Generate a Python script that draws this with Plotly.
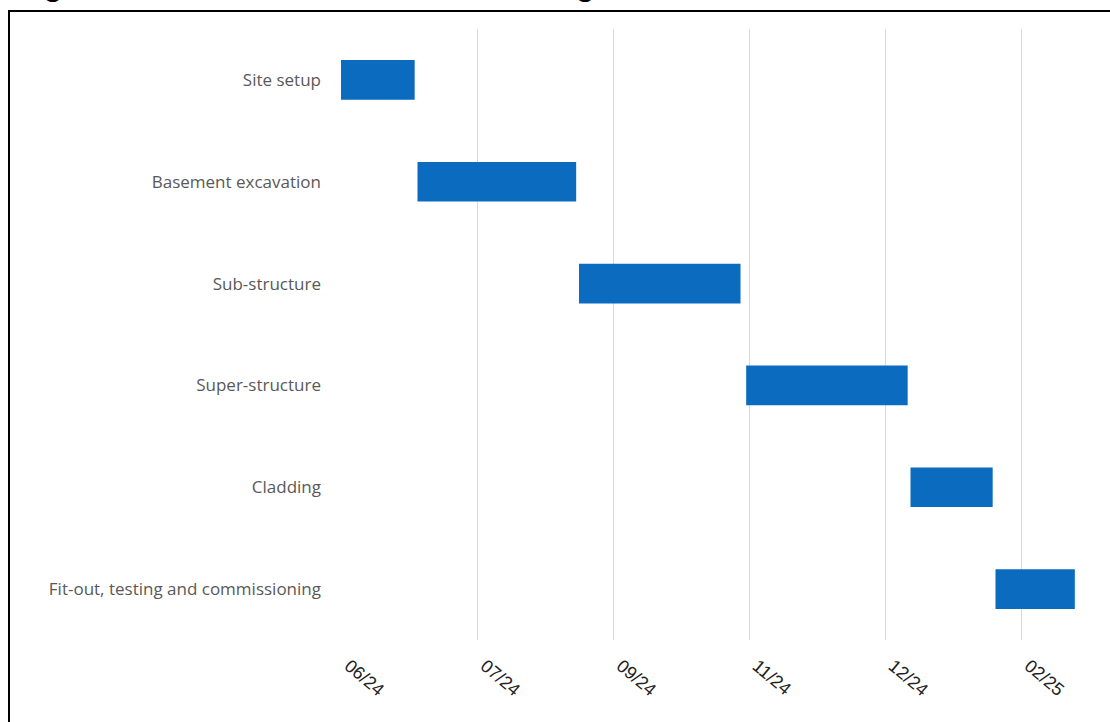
import plotly.graph_objects as go
from datetime import datetime

# ---- data ----
tasks = [
    "Site setup",
    "Basement excavation",
    "Sub-structure",
    "Super-structure",
    "Cladding",
    "Fit-out, testing and commissioning",
]
starts = ["2024-06-12", "2024-07-09", "2024-09-04", "2024-11-02", "2024-12-30", "2025-01-29"]
ends = ["2024-07-08", "2024-09-03", "2024-10-31", "2024-12-29", "2025-01-28", "2025-02-26"]
tick_dates = ["2024-06-12", "2024-07-30", "2024-09-16", "2024-11-03", "2024-12-21", "2025-02-07"]
tick_labels = ["06/24", "07/24", "09/24", "11/24", "12/24", "02/25"]
axis_range = ["2024-06-12", "2025-03-03"]
title_text = "Figure 5.1 Indicative Construction Programme"

fmt = "%Y-%m-%d"
durations_ms = [
    (datetime.strptime(e, fmt) - datetime.strptime(s, fmt)).total_seconds() * 1000
    for s, e in zip(starts, ends)
]

# ---- layout geometry (pixels) ----
W, H = 1110, 722
L, R, T, B = 341, 21, 29, 82
pw, ph = W - L - R, H - T - B

fig = go.Figure()
fig.add_trace(go.Bar(
    y=tasks,
    x=durations_ms,
    base=starts,
    orientation="h",
    marker=dict(color="#0A6BBF", line=dict(width=0)),
    width=0.39,
    hoverinfo="skip",
))

fig.update_layout(
    width=W, height=H,
    margin=dict(l=L, r=R, t=T, b=B, pad=0),
    paper_bgcolor="white",
    plot_bgcolor="white",
    showlegend=False,
    xaxis=dict(
        type="date",
        range=axis_range,
        tickvals=tick_dates,
        ticktext=tick_labels,
        tickangle=40,
        showgrid=True,
        gridcolor="#D9D9D9",
        gridwidth=1,
        zeroline=False,
        showline=False,
        ticks="",
        tickfont=dict(family="Liberation Sans, Arial", size=18, color="#222222"),
        ticklabelstandoff=11,
        ticklabelshift=8,
    ),
    yaxis=dict(
        categoryorder="array",
        categoryarray=tasks,
        autorange="reversed",
        showgrid=False,
        zeroline=False,
        showline=False,
        ticks="",
        tickfont=dict(family="Open Sans", size=17, color="#595959"),
        ticklabelstandoff=19,
    ),
    shapes=[
        dict(
            type="rect", xref="paper", yref="paper",
            x0=(9 - L) / pw, x1=(W + 20 - L) / pw,
            y0=(H - B - (H + 20)) / ph, y1=(H - B - 11) / ph,
            line=dict(color="black", width=2),
            fillcolor="rgba(0,0,0,0)",
            layer="above",
        )
    ],
    annotations=[
        dict(
            text="<b>" + title_text + "</b>",
            xref="paper", yref="paper",
            x=(14 - L) / pw, y=(H - B - 1) / ph,
            xanchor="left", yanchor="bottom",
            yshift=-3,
            showarrow=False,
            font=dict(family="Liberation Sans, Arial", size=31, color="black"),
        )
    ],
)

fig.write_html("out.html")
